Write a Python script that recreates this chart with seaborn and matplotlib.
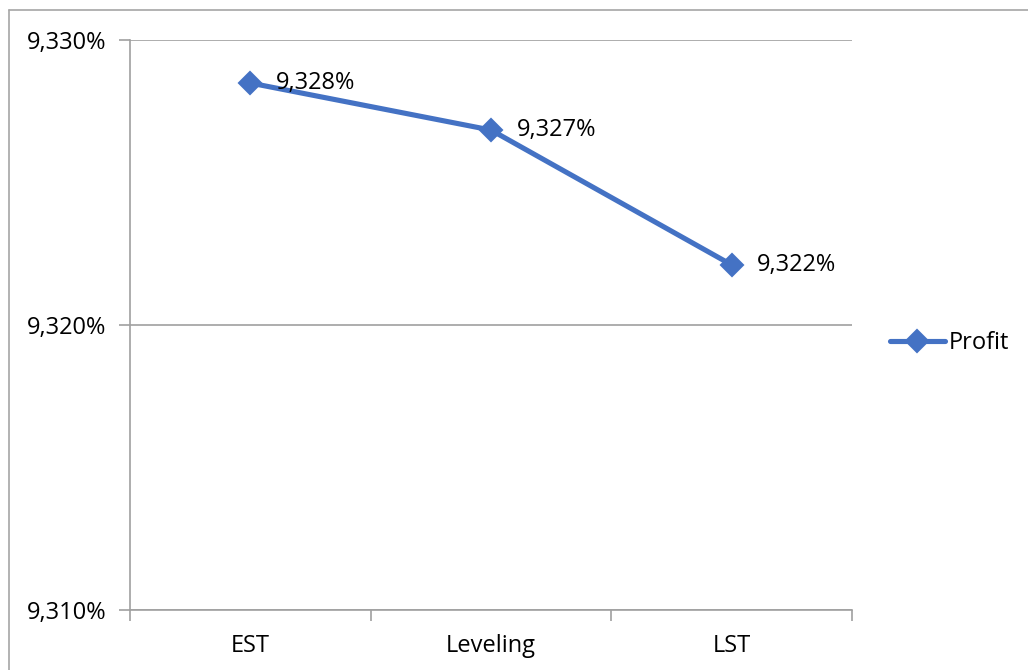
import matplotlib
matplotlib.use("Agg")
import matplotlib.pyplot as plt
from matplotlib.ticker import FuncFormatter, FixedLocator
from matplotlib.lines import Line2D
import seaborn as sns
import pandas as pd

# Scheduling strategies and their profit (in percent)
categories = ["EST", "Leveling", "LST"]
profit = [9.32849, 9.32684, 9.32211]
y_ticks = [9.310, 9.320, 9.330]
series_name = "Profit"

sns.set_theme(style="white")
plt.rcParams["font.family"] = ["Open Sans", "DejaVu Sans"]

BLUE = "#4472C4"
GRID = "#A0A0A0"
FS = 17

df = pd.DataFrame({"strategy": categories, "profit": profit})

fig = plt.figure(figsize=(10.28, 6.70), dpi=100)
ax = fig.add_axes([130 / 1028, 1 - 610 / 670, (852 - 130) / 1028, (610 - 40) / 670])

sns.lineplot(data=df, x="strategy", y="profit", ax=ax, color=BLUE,
             linewidth=3.7, marker="D", markersize=11.5, markeredgewidth=1.5,
             markeredgecolor=BLUE, label=series_name, sort=False)
for ln in ax.lines:
    ln.set_solid_joinstyle("round")
    ln.set_solid_capstyle("round")

ax.set_xlim(-0.5, len(categories) - 0.5)
ax.set_ylim(y_ticks[0], y_ticks[-1])


def pct(v, _=None):
    return f"{v:.3f}%".replace(".", ",")


ax.yaxis.set_major_locator(FixedLocator(y_ticks))
ax.yaxis.set_major_formatter(FuncFormatter(pct))
ax.grid(axis="y", color=GRID, linewidth=1.2)
ax.set_axisbelow(True)

# category labels centered in their bands, tick marks on band boundaries
ax.set_xticks(range(len(categories)))
ax.set_xticklabels(categories)
ax.set_xticks([i - 0.5 for i in range(len(categories) + 1)], minor=True)
ax.tick_params(axis="x", which="major", length=0, labelsize=FS, pad=17,
               labelcolor="black")
ax.tick_params(axis="x", which="minor", length=8, width=1.2, color=GRID,
               direction="out", bottom=True)
ax.tick_params(axis="y", which="major", length=8, width=1.2, color=GRID,
               direction="out", left=True, labelsize=FS, pad=9,
               labelcolor="black")

for side in ["top", "right"]:
    ax.spines[side].set_visible(False)
for side in ["left", "bottom"]:
    ax.spines[side].set_color(GRID)
    ax.spines[side].set_linewidth(1.2)

ax.set_xlabel("")
ax.set_ylabel("")

# value labels to the right of each point
for i, v in enumerate(profit):
    ax.annotate(pct(v), xy=(i, v), xytext=(18.5, 0), textcoords="offset points",
                ha="left", va="center", fontsize=FS, color="black")

ax.legend(loc="center left", bbox_to_anchor=(1.052, (610 - 343) / 570),
          frameon=False, fontsize=FS, handlelength=2.35, handletextpad=0.15,
          borderaxespad=0, borderpad=0, labelcolor="black")

# outer chart frame
fig.add_artist(Line2D([8.5 / 1028, 8.5 / 1028], [0, 1 - 9.5 / 670],
                      transform=fig.transFigure, color="#A6A6A6", linewidth=1.2))
fig.add_artist(Line2D([8.5 / 1028, 1], [1 - 9.5 / 670, 1 - 9.5 / 670],
                      transform=fig.transFigure, color="#A6A6A6", linewidth=1.2))

fig.savefig("out.png", dpi=100, facecolor="white")
